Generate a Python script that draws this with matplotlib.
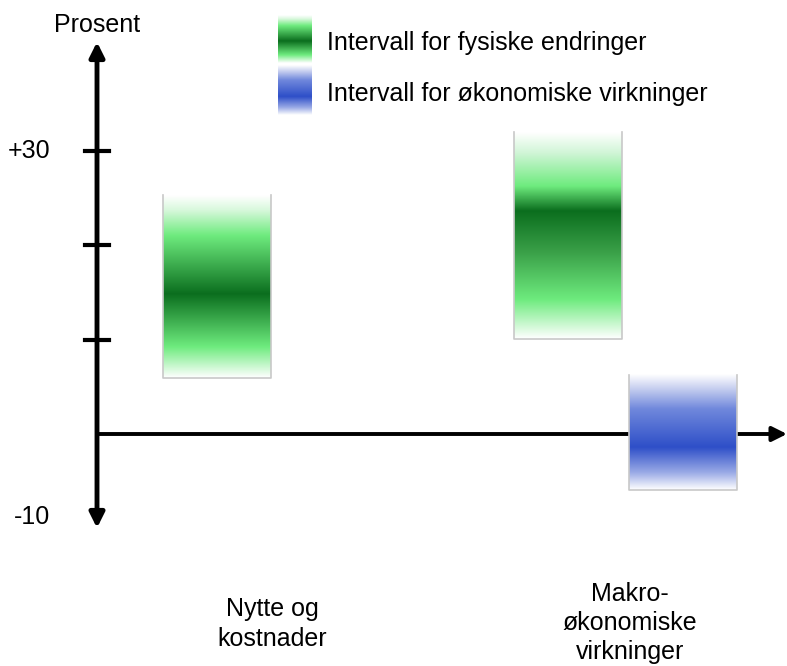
import numpy as np
import matplotlib
matplotlib.use('Agg')
import matplotlib.pyplot as plt
from matplotlib.colors import LinearSegmentedColormap

# data (percent)
categories = ['Nytte og\nkostnader', 'Makro-\nøkonomiske\nvirkninger']
bar_kind = ['fysisk', 'fysisk', 'okonomisk']
bar_low = [5.9, 10.1, -5.9]
bar_high = [25.3, 32.0, 6.3]
tick_values = [10, 20, 30]
tick_labels = {30: '+30', -10: '-10'}
legend_labels = ['Intervall for fysiske endringer', 'Intervall for økonomiske virkninger']

# layout: x in bar widths from the y axis, y in percent
bar_x = [0.61, 3.86, 4.93]
bar_w = 1.0
W, H = 787, 666
px_per_x = 108.0
px_per_y = 9.43
x0_px, y0_px = 97, 434


def px2x(px):
    return (px - x0_px) / px_per_x


def px2y(py):
    return (y0_px - py) / px_per_y


green_stops1 = [(0, '#ffffff'), (0.17, '#6eeb7e'), (0.46, '#0b6e1e'),
                (0.78, '#6eeb7e'), (0.92, '#d8f8dc'), (1, '#ffffff')]
green_stops2 = [(0, '#ffffff'), (0.19, '#6eeb7e'), (0.42, '#3aa048'),
                (0.62, '#0b6e1e'), (0.74, '#6eeb7e'), (0.9, '#d0f5d6'), (1, '#ffffff')]
blue_stops = [(0, '#ffffff'), (0.15, '#9aaae6'), (0.37, '#2e4fc8'),
              (0.7, '#7088dc'), (0.88, '#c8d0f0'), (1, '#ffffff')]
cmaps = [LinearSegmentedColormap.from_list('g1', green_stops1),
         LinearSegmentedColormap.from_list('g2', green_stops2),
         LinearSegmentedColormap.from_list('b', blue_stops)]

plt.rcParams['font.family'] = ['Liberation Sans', 'DejaVu Sans']
fig = plt.figure(figsize=(W / 100, H / 100), dpi=100)
ax = fig.add_axes([0, 0, 1, 1])
ax.set_axis_off()

grad = np.linspace(0, 1, 256).reshape(-1, 1)
for x, lo, hi, cm in zip(bar_x, bar_low, bar_high, cmaps):
    ax.imshow(grad, cmap=cm, origin='lower', aspect='auto',
              extent=(x, x + bar_w, lo, hi), zorder=5)
    # thin grey edge on the sides and bottom only
    ax.plot([x, x, x + bar_w, x + bar_w], [hi, lo, lo, hi],
            color='#c8c8c8', lw=1.2, zorder=6)

# axes arrows
ax.annotate('', xy=(0, px2y(42)), xytext=(0, px2y(528)),
            arrowprops=dict(arrowstyle='<|-|>', lw=3.5, color='black',
                            mutation_scale=22, shrinkA=0, shrinkB=0), zorder=2)
ax.annotate('', xy=(px2x(787), 0), xytext=(0, 0),
            arrowprops=dict(arrowstyle='-|>', lw=2.8, color='black',
                            mutation_scale=22, shrinkA=0, shrinkB=0), zorder=2)
for t in tick_values:
    ax.plot([px2x(85), px2x(109)], [t, t], color='black', lw=3, zorder=2)

fs = 18
ax.text(px2x(50), 30, tick_labels[30], ha='right', va='center', fontsize=fs)
ax.text(px2x(50), px2y(517), tick_labels[-10], ha='right', va='center', fontsize=fs)
ax.text(px2x(97), px2y(25), 'Prosent', ha='center', va='center', fontsize=fs)

ax.text(px2x(272), px2y(624), categories[0], ha='center', va='center',
        fontsize=fs, linespacing=1.28)
ax.text(px2x(630), px2y(623), categories[1], ha='center', va='center',
        fontsize=fs, linespacing=1.28)

# legend
ax.imshow(grad, cmap=LinearSegmentedColormap.from_list('lg', green_stops1),
          origin='lower', aspect='auto',
          extent=(px2x(278), px2x(312), px2y(63), px2y(15)), zorder=2)
ax.imshow(grad, cmap=LinearSegmentedColormap.from_list('lb', blue_stops),
          origin='lower', aspect='auto',
          extent=(px2x(278), px2x(312), px2y(115), px2y(65)), zorder=2)
ax.text(px2x(327), px2y(43), legend_labels[0], ha='left', va='center', fontsize=fs)
ax.text(px2x(327), px2y(94), legend_labels[1], ha='left', va='center', fontsize=fs)

ax.set_xlim(px2x(0), px2x(W))
ax.set_ylim(px2y(H), px2y(0))

fig.savefig('out.png', dpi=100)
